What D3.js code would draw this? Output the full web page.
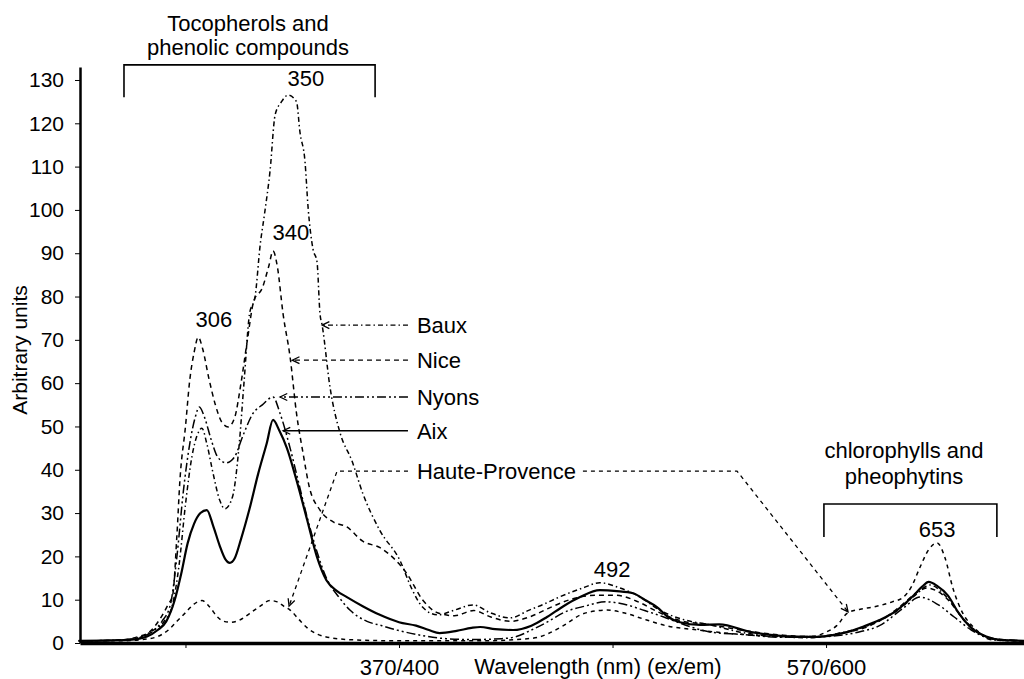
<!DOCTYPE html>
<html>
<head>
<meta charset="utf-8">
<script src="https://cdn.jsdelivr.net/npm/d3@7/dist/d3.min.js"></script>
<style>
  html, body { margin: 0; padding: 0; background: #fff; }
  svg { display: block; }
  text { font-family: "Liberation Sans", Arial, sans-serif; fill: #000; }
</style>
</head>
<body>
<script>
var width = 1024, height = 679;

// synchronous spectra, x = emission wavelength (nm), y = arbitrary units
var baux = [[250,0.5],[265,0.6],[275,0.9],[280,1.6],[285,3],[290,5],[294,9],[297,18],[300,32],[303,43],[305.5,48],[307.7,49.6],[310,46],[313,39],[316,33],[318.5,31],[322,33.7],[325,45],[327.5,60.7],[330,76],[332.6,80],[335,92],[337,99],[339.6,109],[342,122],[345,125],[348,126.5],[352,125],[353.6,118],[356,111],[357.4,100.7],[359.7,91],[361.6,88],[363,76],[364,73.4],[367.7,59],[372.4,48.5],[378,42],[383,34.6],[391,26],[400.5,19],[406,12.5],[411,8.3],[418,6.5],[426,7.6],[434.7,8.8],[442.6,7],[452,5.8],[461,7.6],[468,9],[475,10.6],[486,12.7],[494,13.9],[503.5,12.7],[513,10.6],[522,7.6],[534,5.3],[545.7,4.2],[559.7,2.5],[580,1.4],[592.5,1.2],[606.6,2.3],[620.6,4.2],[634.7,8],[641.7,11],[648.7,13.4],[655.7,11],[662.7,6.5],[669.8,3],[678,0.7],[692.7,0.5]];

var nice = [[250,0.5],[265,0.6],[272,0.8],[278,1.5],[283,2.5],[288,5.5],[292,9],[294,11],[296,25],[297.4,37.6],[300,50],[302,60.7],[304,67],[306,70.6],[308,68],[311,61],[314,55],[317,51],[320,49.9],[323,52],[326,60],[329,70],[332,79],[336,82],[339,87],[341,90.5],[343,87],[345.7,76],[349,66],[352,53],[355,44],[358,36],[363,30.7],[369,28],[375.6,26.8],[383,23.5],[391.1,22],[403.7,16],[411,10],[418,7],[426,6.3],[435,7.5],[443,6],[452,5],[461,6],[470,8],[480,10],[492,11],[502,11],[512,9.5],[522,7],[533,5],[545,4.3],[560,3],[580,1.8],[595,1.5],[607,2.3],[618,3.5],[628,6],[636,9],[642,11.5],[647.3,12.7],[652,12],[659,9],[665,5],[671,2.5],[678,1],[692.7,0.5]];

var nyons = [[250,0.5],[265,0.6],[275,0.9],[280,1.5],[285,2.8],[289,5],[293,9],[296,20],[299,35],[302,46],[304.5,52],[306.5,54.5],[309,52],[312,47],[315,43],[319,41.6],[323,43],[327,48],[331.6,53],[336,55],[341,56.8],[344.3,53],[349,45],[353,37],[357,29],[361,22],[366,15],[372,10.5],[377,7.6],[385,5],[392,4],[399,3],[410,1.8],[422,1],[435,0.8],[448,1],[455,1.5],[462,3],[470,5],[477,7],[487,8.5],[497,9.5],[505,9],[515,7.5],[524,6],[535,4],[546,2.5],[560,2],[580,1.3],[600,1.5],[615,2.5],[625,4],[636,8],[644,10.6],[652,9],[660,6],[668,3],[676,1.2],[692.7,0.5]];

var aix = [[250,0.5],[265,0.6],[275,0.8],[282,1.5],[287,3],[291,5],[295,10],[298,16],[301,23],[304,27.5],[307,30],[310,30.7],[313,27],[316,22.5],[318.5,19.5],[320.8,18.5],[323,19.5],[326,24],[330,31],[334,39],[338,46],[341,51.5],[344,49],[347.5,45],[352,37.6],[357,28.4],[361.5,20],[366,14.5],[371,12],[375.6,10.6],[383,8.5],[391,6.5],[400,4.8],[408,4],[414,3],[419,2.3],[427,2.8],[434,3.5],[438,3.7],[445,3.2],[453.4,3],[462,4],[469.3,6],[477,8.5],[484.8,10.6],[494,12.2],[502,12],[509.6,11.5],[515,10],[520.8,8.3],[526,6],[531.6,4.8],[541,4.2],[550,4.3],[565,2.5],[580,1.6],[595,1.4],[605,2],[612,2.8],[617,3.7],[625,5.3],[633,7.5],[640,10.5],[645,13],[648,14.1],[652,13.2],[657,11],[662,7],[668,3.5],[675,1.5],[682,0.7],[692.7,0.5]];

var hauteProvence = [[250,0.5],[270,0.5],[280,0.8],[287,1.5],[292,3],[296,5],[300,7],[304,9],[307.7,9.8],[311,8.5],[315,6],[318,5],[321,4.8],[325,5.2],[330,6.8],[335,8.5],[339.6,9.8],[343,9.5],[346,8.5],[349,7.6],[353,5.5],[357,3.5],[362,2],[368,1.2],[380,0.7],[400,0.5],[440,0.5],[455,0.8],[465,1.3],[470,2.2],[477,4],[485,6.5],[492,7.4],[497.4,7.6],[505,7],[516,5.3],[525,4],[540,3],[560,2],[580,1.5],[593,1.5],[600,2.5],[605,4],[610,6.9],[616,7.8],[622,8.3],[631,9.5],[636,10.5],[640,13],[644,17.5],[648,21.5],[652,23.1],[655.5,20],[659.5,12.5],[664,6.9],[669,3.7],[675,1.4],[682,0.6],[692.7,0.5]];

var seriesNames = ["Baux", "Nice", "Nyons", "Aix", "Haute-Provence"];
var seriesData = [baux, nice, nyons, aix, hauteProvence];
var seriesDash = ["5,3,1.5,3", "5,4", "9,3,2,3,2,3", null, "4,4"];
var seriesWidth = [1.5, 1.5, 1.5, 2.2, 1.5];

// where each leader arrow touches its curve [em, value], and the label row value
var arrowAt = [[364, 73.4], [350, 65.3], [344.3, 56.8], [345.7, 49], [348.5, 8.5]];
var labelRow = [73.4, 65.3, 56.8, 49, 39.7];
var hpBendLeft = [371, 39.7], hpBendRight = [558.3, 39.7], hpArrowRight = [610.3, 7.2];

var xTicks = [300, 400, 500, 600];
var xTickLabels = {400: "370/400", 600: "570/600"};
var yTicks = d3.range(0, 131, 10);

var peakLabels = ["306", "340", "350", "492", "653"];
var peakPos = [[313.3, 73], [349.4, 93], [356.4, 128.6], [499.8, 15.2], [652, 24.5]];

var x = d3.scaleLinear().domain([250.6, 692.7]).range([80, 1024]);
var y = d3.scaleLinear().domain([0, 133]).range([643, 67]);

var svg = d3.select("body").append("svg")
    .attr("width", width)
    .attr("height", height);

// curves
var line = d3.line()
    .x(function(d) { return x(d[0]); })
    .y(function(d) { return y(d[1]); })
    .curve(d3.curveMonotoneX);

svg.append("g").selectAll("path")
    .data(seriesData)
    .enter().append("path")
    .attr("d", line)
    .attr("fill", "none")
    .attr("stroke", "#000")
    .attr("stroke-width", function(d, i) { return seriesWidth[i]; })
    .attr("stroke-dasharray", function(d, i) { return seriesDash[i]; });

// axes
var yAxis = svg.append("g")
    .attr("transform", "translate(80,0)")
    .call(d3.axisLeft(y).tickValues(yTicks).tickSize(5).tickPadding(11).tickSizeOuter(0));
yAxis.select(".domain").attr("stroke-width", 2.5);
yAxis.selectAll("text").style("font-size", "21px");

var xAxis = svg.append("g")
    .attr("transform", "translate(0,643)")
    .call(d3.axisBottom(x).tickValues(xTicks).tickSize(5).tickPadding(11).tickSizeOuter(0)
        .tickFormat(function(d) { return xTickLabels[d] || ""; }));
xAxis.select(".domain").attr("stroke-width", 3.5);
xAxis.selectAll("text").style("font-size", "22px");

svg.append("text")
    .attr("transform", "translate(27,350) rotate(-90)")
    .attr("text-anchor", "middle")
    .style("font-size", "21px")
    .text("Arbitrary units");

svg.append("text")
    .attr("x", 598)
    .attr("y", 674)
    .attr("text-anchor", "middle")
    .style("font-size", "22px")
    .text("Wavelength (nm) (ex/em)");

// peak labels
svg.append("g").selectAll("text")
    .data(peakLabels)
    .enter().append("text")
    .attr("x", function(d, i) { return x(peakPos[i][0]); })
    .attr("y", function(d, i) { return y(peakPos[i][1]); })
    .attr("text-anchor", "middle")
    .style("font-size", "22px")
    .text(function(d) { return d; });

// group brackets
function bracket(x0, x1, top, bottom) {
    svg.append("path")
        .attr("d", "M" + x(x0) + "," + y(bottom) + "V" + y(top) + "H" + x(x1) + "V" + y(bottom))
        .attr("fill", "none")
        .attr("stroke", "#000")
        .attr("stroke-width", 1.6);
}
bracket(271.2, 388.8, 133.5, 126);
bracket(599, 680, 32.1, 24.5);

function textLines(lines, cx, baselines) {
    lines.forEach(function(t, i) {
        svg.append("text")
            .attr("x", cx)
            .attr("y", baselines[i])
            .attr("text-anchor", "middle")
            .style("font-size", "22px")
            .text(t);
    });
}
textLines(["Tocopherols and", "phenolic compounds"], 248, [31, 55]);
textLines(["chlorophylls and", "pheophytins"], 904, [458, 484]);

// leader lines with open arrow heads
function arrowHead(tip, from) {
    var a = Math.atan2(from[1] - tip[1], from[0] - tip[0]), len = 8, sp = 0.45;
    svg.append("path")
        .attr("d", "M" + (tip[0] + len * Math.cos(a - sp)) + "," + (tip[1] + len * Math.sin(a - sp)) +
            "L" + tip[0] + "," + tip[1] +
            "L" + (tip[0] + len * Math.cos(a + sp)) + "," + (tip[1] + len * Math.sin(a + sp)))
        .attr("fill", "none")
        .attr("stroke", "#000")
        .attr("stroke-width", 1.3);
}

var labelX = x(408.4), lineEnd = x(404.2);
seriesNames.forEach(function(name, i) {
    var ly = y(labelRow[i]);
    var lbl = svg.append("text")
        .attr("x", labelX)
        .attr("y", ly + 8)
        .style("font-size", "22px")
        .text(name);
    var pts, tip = [x(arrowAt[i][0]), y(arrowAt[i][1])];
    if (name == "Haute-Provence") {
        pts = [[lineEnd, ly], [x(hpBendLeft[0]), y(hpBendLeft[1])], tip];
        var tEnd = labelX + lbl.node().getComputedTextLength() + 7;
        var tip2 = [x(hpArrowRight[0]), y(hpArrowRight[1])];
        var bend = [x(hpBendRight[0]), y(hpBendRight[1])];
        svg.append("path")
            .attr("d", d3.line()([[tEnd, ly], bend, tip2]))
            .attr("fill", "none")
            .attr("stroke", "#000")
            .attr("stroke-width", 1.3)
            .attr("stroke-dasharray", seriesDash[i]);
        arrowHead(tip2, bend);
    } else {
        pts = [[lineEnd, ly], tip];
    }
    svg.append("path")
        .attr("d", d3.line()(pts))
        .attr("fill", "none")
        .attr("stroke", "#000")
        .attr("stroke-width", seriesWidth[i] == 2.2 ? 1.5 : 1.3)
        .attr("stroke-dasharray", seriesDash[i]);
    arrowHead(tip, pts[pts.length - 2]);
});
</script>
</body>
</html>
